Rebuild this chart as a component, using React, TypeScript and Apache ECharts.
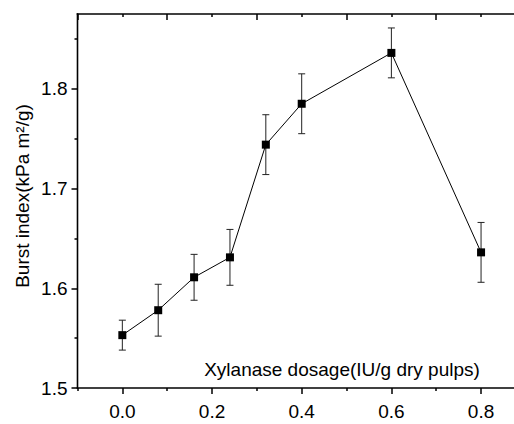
import React, { useEffect, useRef } from "react";
import * as echarts from "echarts";

// Data
const dosage = [0, 0.08, 0.16, 0.24, 0.32, 0.4, 0.6, 0.8];
const burst = [1.553, 1.578, 1.611, 1.631, 1.744, 1.785, 1.836, 1.636];
const errors = [0.015, 0.026, 0.023, 0.028, 0.03, 0.03, 0.025, 0.03];

// Axis ranges and tick values
const xRange = [-0.1, 0.9];
const yRange = [1.5, 1.875];
const xMajorTicks = [0, 0.2, 0.4, 0.6, 0.8];
const xMinorTicks = [-0.1, 0.1, 0.3, 0.5, 0.7];
const yMajorTicks = [1.5, 1.6, 1.7, 1.8];
const yMinorTicks = [1.55, 1.65, 1.75, 1.85];

const xLabel = "Xylanase dosage(IU/g dry pulps)";
const yLabel = "Burst index(kPa m\u00B2/g)";

const FONT = "'Liberation Sans', Arial, sans-serif";

export default function App() {
  const ref = useRef<HTMLDivElement>(null);

  useEffect(() => {
    if (!ref.current) return;
    const chart = echarts.init(ref.current, null, { renderer: "svg" });

    const errData = dosage.map((x, i) => [x, burst[i] - errors[i], burst[i] + errors[i]]);
    const lineData = dosage.map((x, i) => [x, burst[i]]);

    const tickStyle = { color: "#000", width: 1.5 };
    const noLine = { show: false, onZero: false };
    const baseX = { type: "value", min: xRange[0], max: xRange[1], splitLine: { show: false } };
    const baseY = { type: "value", min: yRange[0], max: yRange[1], splitLine: { show: false } };

    const option: any = {
      animation: false,
      grid: {
        left: 77.5,
        top: 14,
        width: 448.4,
        height: 374,
        containLabel: false,
        outerBoundsMode: "none",
      },
      xAxis: [
        {
          ...baseX,
          position: "bottom",
          axisLine: noLine,
          axisTick: { show: true, inside: false, length: 6, customValues: xMajorTicks, lineStyle: tickStyle },
          axisLabel: {
            show: true,
            customValues: xMajorTicks,
            formatter: (v: number) => v.toFixed(1),
            fontSize: 19,
            fontFamily: FONT,
            color: "#000",
            margin: 14,
          },
        },
        {
          ...baseX,
          position: "bottom",
          axisLine: noLine,
          axisTick: { show: true, inside: false, length: 3, customValues: xMinorTicks, lineStyle: tickStyle },
          axisLabel: { show: false },
        },
        {
          ...baseX,
          position: "top",
          axisLine: noLine,
          axisTick: { show: true, inside: true, length: 6, customValues: xMinorTicks, lineStyle: tickStyle },
          axisLabel: { show: false },
        },
        {
          ...baseX,
          position: "top",
          axisLine: noLine,
          axisTick: { show: true, inside: true, length: 3, customValues: xMajorTicks, lineStyle: tickStyle },
          axisLabel: { show: false },
        },
      ],
      yAxis: [
        {
          ...baseY,
          position: "left",
          axisLine: noLine,
          axisTick: { show: true, inside: false, length: 6, customValues: yMajorTicks, lineStyle: tickStyle },
          axisLabel: {
            show: true,
            customValues: yMajorTicks,
            formatter: (v: number) => v.toFixed(1),
            fontSize: 19,
            fontFamily: FONT,
            color: "#000",
            margin: 10,
          },
        },
        {
          ...baseY,
          position: "left",
          axisLine: noLine,
          axisTick: { show: true, inside: false, length: 3, customValues: yMinorTicks, lineStyle: tickStyle },
          axisLabel: { show: false },
        },
      ],
      graphic: [
        {
          id: "xTitle",
          type: "text",
          x: 342,
          y: 369,
          style: {
            text: xLabel,
            fontSize: 19,
            fontFamily: FONT,
            fill: "#000",
            textAlign: "center",
            textVerticalAlign: "middle",
          },
          z: 100,
        },
        {
          id: "yTitle",
          type: "text",
          x: 22,
          y: 196,
          rotation: Math.PI / 2,
          style: {
            text: yLabel,
            fontSize: 19,
            fontFamily: FONT,
            fill: "#000",
            textAlign: "center",
            textVerticalAlign: "middle",
          },
          z: 100,
        },
      ],
      series: [
        {
          type: "custom",
          xAxisIndex: 0,
          yAxisIndex: 0,
          data: errData,
          encode: { x: 0, y: [1, 2] },
          z: 2,
          renderItem: (params: any, api: any) => {
            const x = api.value(0);
            const lo = api.coord([x, api.value(1)]);
            const hi = api.coord([x, api.value(2)]);
            const w = 3.5;
            const st = { stroke: "#222", lineWidth: 1 };
            return {
              type: "group",
              children: [
                { type: "line", shape: { x1: lo[0], y1: lo[1], x2: hi[0], y2: hi[1] }, style: st },
                { type: "line", shape: { x1: lo[0] - w, y1: lo[1], x2: lo[0] + w, y2: lo[1] }, style: st },
                { type: "line", shape: { x1: hi[0] - w, y1: hi[1], x2: hi[0] + w, y2: hi[1] }, style: st },
              ],
            };
          },
        },
        {
          type: "line",
          xAxisIndex: 0,
          yAxisIndex: 0,
          data: lineData,
          z: 5,
          symbol: "rect",
          symbolSize: 8,
          showAllSymbol: true,
          lineStyle: { color: "#000", width: 1 },
          itemStyle: { color: "#000" },
        },
      ],
    };

    chart.setOption(option);

    // Plot frame (top, left, bottom) positioned through the axes' own scales
    const finder = { xAxisIndex: 0, yAxisIndex: 0 };
    const bl = chart.convertToPixel(finder as any, [xRange[0], yRange[0]]) as number[];
    const tr = chart.convertToPixel(finder as any, [xRange[1], yRange[1]]) as number[];
    if (bl && tr) {
      const t = 1.6;
      chart.setOption({
        graphic: [
          {
            id: "frameLeft",
            type: "rect",
            shape: { x: bl[0] - t / 2, y: tr[1] - t / 2, width: t, height: bl[1] - tr[1] + t },
            style: { fill: "#000" },
            z: 50,
            silent: true,
          },
          {
            id: "frameBottom",
            type: "rect",
            shape: { x: bl[0] - t / 2, y: bl[1] - t / 2, width: tr[0] - bl[0] + t, height: t },
            style: { fill: "#000" },
            z: 50,
            silent: true,
          },
          {
            id: "frameTop",
            type: "rect",
            shape: { x: bl[0] - t / 2, y: tr[1] - t / 2, width: tr[0] - bl[0] + t, height: t },
            style: { fill: "#000" },
            z: 50,
            silent: true,
          },
        ],
      });
    }

    return () => chart.dispose();
  }, []);

  return (
    <div
      ref={ref}
      style={{ position: "absolute", left: 0, top: 0, width: 514, height: 424, background: "#fff" }}
    />
  );
}
